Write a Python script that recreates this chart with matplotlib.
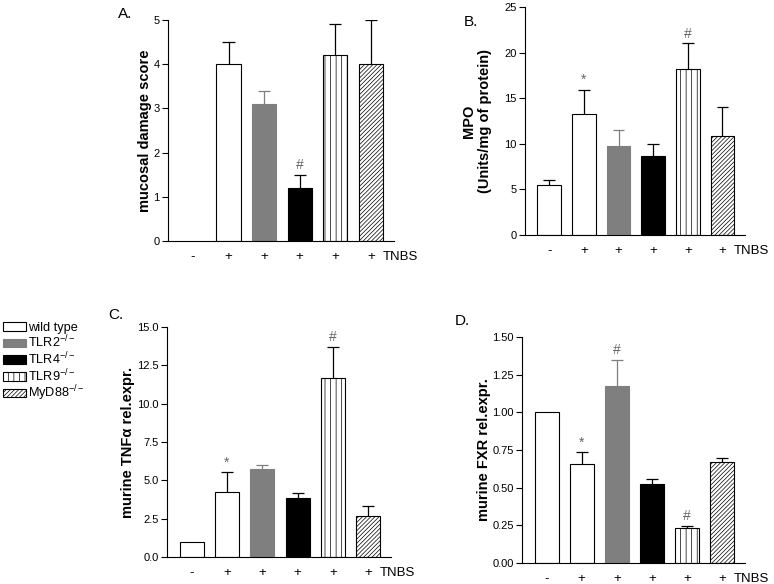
import numpy as np
import matplotlib
matplotlib.use('Agg')
import matplotlib.pyplot as plt
from matplotlib.patches import Patch

plt.rcParams['font.family'] = ['Liberation Sans', 'DejaVu Sans']
plt.rcParams['mathtext.fontset'] = 'custom'
plt.rcParams['mathtext.rm'] = 'Liberation Sans'
plt.rcParams['mathtext.default'] = 'regular'
plt.rcParams['hatch.linewidth'] = 0.5

W, H = 774, 584

# data
GROUPS = ['wild type', 'TLR2$^{-/-}$', 'TLR4$^{-/-}$', 'TLR9$^{-/-}$', 'MyD88$^{-/-}$']
TNBS = ['-', '+', '+', '+', '+', '+']
BAR_GROUP = [0, 0, 1, 2, 3, 4]   # which mouse strain each bar is

damage = [0, 4.0, 3.1, 1.2, 4.2, 4.0]
damage_err = [0, 0.5, 0.3, 0.3, 0.7, 1.0]
damage_marks = ['', '', '', '#', '', '']

mpo = [5.5, 13.25, 9.8, 8.7, 18.25, 10.85]
mpo_err = [0.55, 2.7, 1.75, 1.3, 2.75, 3.15]
mpo_marks = ['', '*', '', '', '#', '']

tnf = [1.0, 4.25, 5.72, 3.86, 11.7, 2.69]
tnf_err = [0, 1.28, 0.28, 0.34, 2.02, 0.61]
tnf_marks = ['', '*', '', '', '#', '']

fxr = [1.0, 0.657, 1.176, 0.523, 0.229, 0.673]
fxr_err = [0, 0.078, 0.17, 0.037, 0.016, 0.027]
fxr_marks = ['', '*', '#', '', '#', '']

# styles per strain
GRAY = '#7f7f7f'
FACE = ['white', GRAY, 'black', 'white', 'white']
EDGE = ['black', GRAY, 'black', 'black', 'black']
HATCH = [None, None, None, '|||', '/' * 8]
ERRC = ['black', GRAY, 'black', 'black', 'black']

fig = plt.figure(figsize=(W / 100, H / 100), dpi=100)


def panel(rect, values, errors, marks, ymax, ystep, fmt, ylabel, lpad, letter, letter_xy):
    l, r, b, t = rect
    ax = fig.add_axes([l / W, 1 - b / H, (r - l) / W, (b - t) / H])
    x = np.arange(len(values))
    bw = 0.68
    cw = 0.17
    for i in x:
        g = BAR_GROUP[i]
        if values[i] > 0:
            ax.bar(x[i], values[i], width=bw, color=FACE[g], edgecolor=EDGE[g],
                   hatch=HATCH[g], linewidth=0.8, zorder=2)
        if errors[i] > 0:
            top = values[i] + errors[i]
            ax.vlines(x[i], values[i], top, color=ERRC[g], lw=0.9, zorder=3)
            ax.hlines(top, x[i] - cw, x[i] + cw, color=ERRC[g], lw=0.9, zorder=3)
        if marks[i]:
            ax.annotate(marks[i], (x[i], values[i] + errors[i]), xytext=(0, 2),
                        textcoords='offset points', ha='center', va='bottom',
                        fontsize=10, color='#666666')
    ax.set_xlim(-0.7, 5.65)
    ax.set_ylim(0, ymax)
    ax.set_yticks(np.arange(0, ymax + ystep / 2, ystep))
    ax.set_yticklabels([fmt.format(v) for v in np.arange(0, ymax + ystep / 2, ystep)])
    ax.set_xticks(x)
    ax.set_xticklabels(TNBS)
    ax.tick_params(axis='y', length=4, width=0.8, labelsize=8, pad=2)
    ax.tick_params(axis='x', length=0, labelsize=9.5, pad=7)
    ax.annotate('TNBS', xy=(5.33, 0), xycoords=('data', 'axes fraction'),
                xytext=(0, -7), textcoords='offset points', ha='left', va='top',
                fontsize=9.5, annotation_clip=False)
    for s in ['top', 'right']:
        ax.spines[s].set_visible(False)
    for s in ['left', 'bottom']:
        ax.spines[s].set_linewidth(0.8)
    ax.set_ylabel(ylabel, fontsize=10.5, fontweight='bold', labelpad=lpad)
    fig.text(letter_xy[0] / W, 1 - letter_xy[1] / H, letter, fontsize=11,
             ha='left', va='center')
    return ax


panel((168, 394, 241, 20), damage, damage_err, damage_marks, 5, 1, '{:.0f}',
      'mucosal damage score', 1, 'A.', (118, 14))
panel((525, 745, 235, 7), mpo, mpo_err, mpo_marks, 25, 5, '{:.0f}',
      'MPO\n(Units/mg of protein)', 9, 'B.', (464, 22))
panel((167, 391, 557, 327), tnf, tnf_err, tnf_marks, 15, 2.5, '{:.1f}',
      'murine TNF\u03b1 rel.expr.', 1.5, 'C.', (108, 315))
panel((522, 745, 563, 337), fxr, fxr_err, fxr_marks, 1.5, 0.25, '{:.2f}',
      'murine FXR rel.expr.', 1, 'D.', (455, 321))

handles = [Patch(facecolor=FACE[g], edgecolor=EDGE[g], hatch=HATCH[g], linewidth=0.8)
           for g in range(len(GROUPS))]
fig.legend(handles, GROUPS, loc='upper left', bbox_to_anchor=(3 / W, 1 - 322 / H),
           frameon=False, fontsize=9.2, handlelength=1.8, handleheight=0.65,
           handletextpad=0.15, labelspacing=0.0, borderpad=0, borderaxespad=0)

fig.savefig('out.png', dpi=100)
